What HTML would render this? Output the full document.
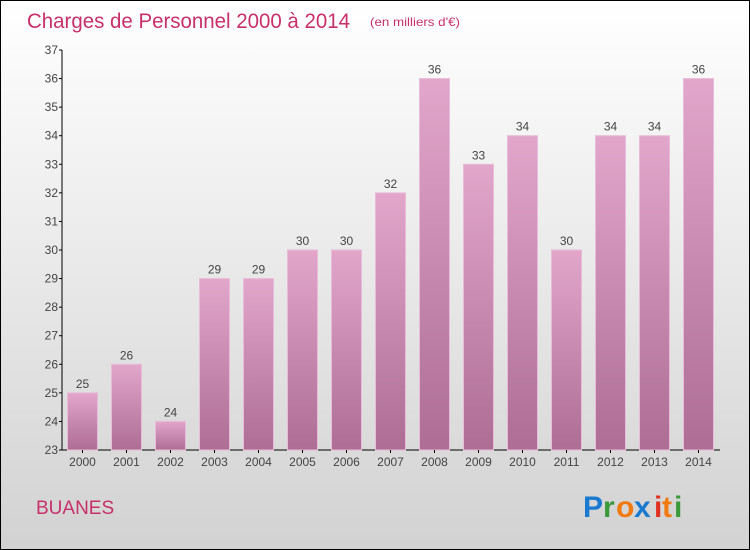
<!DOCTYPE html>
<html><head><meta charset="utf-8"><style>
html,body{margin:0;padding:0}
body{width:750px;height:550px;overflow:hidden;font-family:"Liberation Sans",sans-serif}
#frame{position:absolute;left:0;top:0;width:748px;height:548px;border:1px solid #000;background:linear-gradient(#ffffff,#d2d2d2)}
</style></head><body>
<div id="frame">
<svg width="750" height="550" style="position:absolute;left:-1px;top:-1px">
<defs><linearGradient id="bg" x1="0" y1="0" x2="0" y2="1"><stop offset="0" stop-color="#e3a6cb"/><stop offset="1" stop-color="#ad6d95"/></linearGradient></defs>
<text x="27" y="28" font-size="21" fill="#c8306a" textLength="323" lengthAdjust="spacingAndGlyphs">Charges de Personnel 2000 à 2014</text>
<text x="370" y="26" font-size="12" fill="#c8306a" textLength="90" lengthAdjust="spacingAndGlyphs">(en milliers d'€)</text>
<g id="plot"></g>
<text x="36" y="514" font-size="19" fill="#c8306a">BUANES</text>
<g font-size="30" font-weight="bold" font-family="Liberation Sans,sans-serif">
<text x="583" y="517" fill="#1a7ad0">P</text><text x="603" y="517" fill="#3a9a3a">r</text><text x="616" y="517" fill="#f07a10">o</text><text x="634" y="517" fill="#1a7ad0">x</text><text x="654" y="517" fill="#e03020">i</text><text x="662" y="517" fill="#f07a10">t</text><text x="674" y="517" fill="#3a9a3a">i</text>
</g>
</svg>
</div>
<script>
const years=["2000","2001","2002","2003","2004","2005","2006","2007","2008","2009","2010","2011","2012","2013","2014"];
const values=[25,26,24,29,29,30,30,32,36,33,34,30,34,34,36];
const yTicks=[23,24,25,26,27,28,29,30,31,32,33,34,35,36,37];
const NS="http://www.w3.org/2000/svg";
const g=document.getElementById('plot');
const x0=62,x1=720,yTop=50,yBot=450,ymin=23,ymax=37;
const y=v=>yBot-(v-ymin)/(ymax-ymin)*(yBot-yTop);
const step=44,xc=i=>82.5+i*step;
function mk(t,a,p){const e=document.createElementNS(NS,t);for(const k in a)e.setAttribute(k,a[k]);(p||g).appendChild(e);return e;}
let ax=mk('line',{x1:x0,y1:yTop,x2:x0,y2:yBot,stroke:'#000'});


let bx=mk('line',{x1:x0,y1:yBot,x2:x1,y2:yBot,stroke:'#000'});


yTicks.forEach(v=>{
 mk('line',{x1:x0-3,y1:y(v),x2:x0,y2:y(v),stroke:'#000'});
 const t=mk('text',{x:x0-4,y:y(v)+4,'font-size':12,fill:'#444','text-anchor':'end'});t.textContent=v;
 
 
});
years.forEach((yr,i)=>{
 const v=values[i];
 const r=mk('rect',{x:xc(i)-15,y:y(v),width:30,height:yBot-y(v),fill:'url(#bg)',stroke:'#e8bcd6','stroke-width':1});
 
 
 const l=mk('text',{x:xc(i),y:y(v)-5,'font-size':12,fill:'#444','text-anchor':'middle'});l.textContent=v;
 
 
 mk('line',{x1:xc(i),y1:yBot,x2:xc(i),y2:yBot+3,stroke:'#000'});
 const t=mk('text',{x:xc(i),y:yBot+16,'font-size':12,fill:'#444','text-anchor':'middle'});t.textContent=yr;
 
 
});
</script>
</body></html>
